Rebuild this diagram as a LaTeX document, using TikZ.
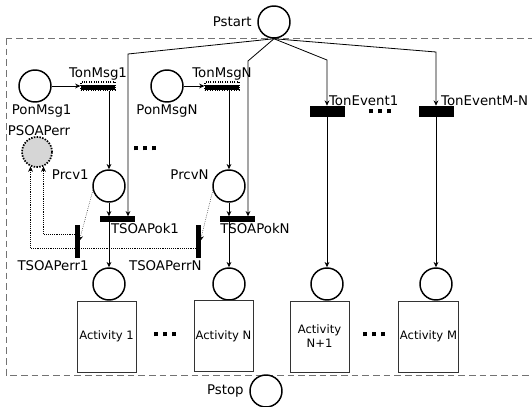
\documentclass[tikz,border=0pt]{standalone}
\usepackage{fontspec}
\setmainfont{DejaVu Sans}
\usetikzlibrary{arrows.meta,positioning}
\newcommand{\blkdots}{\rule{3.6pt}{3.6pt}\hspace{3.2pt}\rule{3.6pt}{3.6pt}\hspace{3.2pt}\rule{3.6pt}{3.6pt}}

\begin{document}
\begin{tikzpicture}[x=0.75pt, y=-0.75pt,
    place/.style={circle, draw=black, line width=1.1pt, minimum size=24pt, inner sep=0pt},
    errplace/.style={place, fill=black!16, densely dotted, line width=1.3pt, minimum size=22.5pt},
    trans/.style={rectangle, fill=black, draw=black, minimum width=25.5pt, minimum height=7.5pt, inner sep=0pt},
    okbar/.style={trans, minimum height=3.6pt},
    msgbar/.style={trans, fill=none, minimum height=6pt, densely dotted, line width=0.8pt,
        path picture={\fill[black] ([yshift=0.6pt]path picture bounding box.west) rectangle (path picture bounding box.south east);}},
    errbar/.style={trans, minimum width=3pt, minimum height=24pt},
    activity/.style={rectangle, draw=black!80, semithick, minimum width=44.25pt, minimum height=53.25pt, font=\fontsize{8.7}{10.5}\selectfont, align=center, inner sep=1pt},
    dots/.style={inner sep=0pt},
    flow/.style={-{Stealth[length=4pt,width=3.6pt]}, semithick},
    errflow/.style={-{Stealth[length=4pt,width=3.6pt]}, densely dotted, thin},
    every label/.style={font=\fontsize{10}{12}\selectfont, inner sep=1pt}
]
    \useasboundingbox (0,0) rectangle (532,407);

    % Frame
    \draw[black!55, dashed, semithick, dash pattern=on 5pt off 3pt] (6,38) rectangle (536,375);

    % Start and stop places
    \node[place, label={[label distance=3pt]left:Pstart}] (pstart) at (274,22) {};
    \node[place, label={[label distance=3pt]left:Pstop}] (pstop) at (266,391) {};

    % Message places and transitions
    \node[place, label={[xshift=5pt]below:PonMsg1}] (ponmsg1) at (35,86) {};
    \node[msgbar, label=above:TonMsg1] (tonmsg1) at (98,86) {};
    \node[place, label=below:PonMsgN] (ponmsgn) at (167,86) {};
    \node[msgbar, label=above:TonMsgN] (tonmsgn) at (222,86) {};
    \node[errplace, label={[xshift=1.5pt, yshift=-1pt]above:PSOAPerr}] (psoaperr) at (37,152) {};

    \node[place, label={[label distance=2pt]165:Prcv1}] (prcv1) at (109,186) {};
    \node[place, label={[label distance=2pt]165:PrcvN}] (prcvn) at (229,186) {};

    \node[okbar, label={[xshift=21pt]below:TSOAPok1}] (tsoapok1) at (117,219) {};
    \node[okbar, label={[xshift=13.5pt]below:TSOAPokN}] (tsoapokn) at (237,219) {};
    \node[errbar, label={[xshift=-18pt, yshift=-1pt]below:TSOAPerr1}] (tsoaperr1) at (77,241) {};
    \node[errbar, label={[xshift=-24.5pt, yshift=-1pt]below:TSOAPerrN}] (tsoaperrn) at (198,241) {};

    % Event transitions
    \node[trans, label={[xshift=27.5pt, yshift=-1pt]above:TonEvent1}] (tonevent1) at (327,111) {};
    \node[trans, label={[xshift=36.5pt, yshift=-1pt]above:TonEventM-N}] (toneventm) at (436,111) {};

    % Activity places and boxes
    \node[place] (pact1) at (109,284) {};
    \node[place] (pactn) at (229,284) {};
    \node[place] (pactn1) at (327,284) {};
    \node[place] (pactm) at (436,284) {};
    \node[activity] (act1) at (106.5,336.5) {Activity 1};
    \node[activity] (actn) at (223.5,336) {Activity N};
    \node[activity] (actn1) at (319.5,336.5) {Activity\\N+1};
    \node[activity] (actm) at (428.5,336.5) {Activity M};

    % Ellipses
    \node[dots] (dots1) at (145,148) {\blkdots};
    \node[dots] (dots2) at (380,111) {\blkdots};
    \node[dots] (dots3) at (165,334) {\blkdots};
    \node[dots] (dots4) at (374,334) {\blkdots};

    % Flows from start
    \coordinate (b1) at (128,54);
    \coordinate (b2) at (248,61);
    \coordinate (b3) at (327,60);
    \coordinate (b4) at (436,52);
    \draw[flow] (pstart.south) -- (b1) -- (b1 |- tsoapok1.north);
    \draw[flow] (pstart.south) -- (b2) -- (b2 |- tsoapokn.north);
    \draw[flow] (pstart.south) -- (b3) -- (tonevent1.north);
    \draw[flow] (pstart.south) -- (b4) -- (toneventm.north);

    % Message flows
    \draw[flow] (ponmsg1) -- (tonmsg1);
    \draw[flow] (ponmsgn) -- (tonmsgn);
    \draw[flow] (prcv1 |- tonmsg1.south) -- (prcv1);
    \draw[flow] (prcvn |- tonmsgn.south) -- (prcvn);
    \draw[flow] (prcv1) -- (prcv1 |- tsoapok1.north);
    \draw[flow] (prcvn) -- (prcvn |- tsoapokn.north);
    \draw[flow] (prcv1 |- tsoapok1.south) -- (pact1);
    \draw[flow] (prcvn |- tsoapokn.south) -- (pactn);
    \draw[flow] (tonevent1) -- (pactn1);
    \draw[flow] (toneventm) -- (pactm);

    % Error flows
    \draw[errflow] (prcv1.195) -- (tsoaperr1.east);
    \draw[errflow] (prcvn.195) -- (tsoaperrn.east);
    \draw[errflow] ([yshift=5.25pt]tsoaperr1.west) -| (psoaperr.-66);
    \draw[errflow] ([yshift=-5.25pt]tsoaperrn.west) -| (psoaperr.-114);

\end{tikzpicture}
\end{document}
